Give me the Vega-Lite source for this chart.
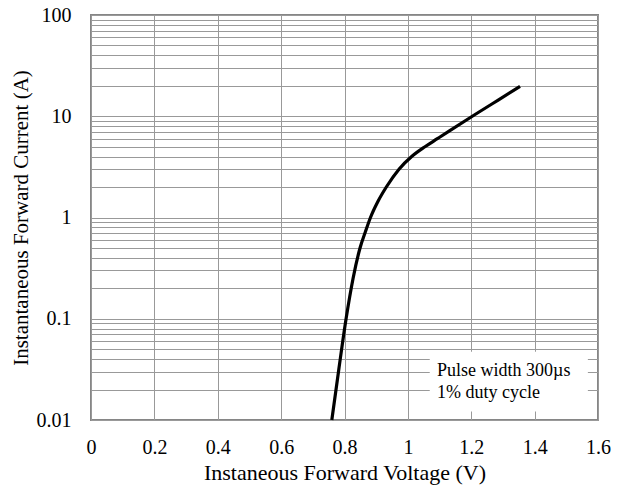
{
  "$schema": "https://vega.github.io/schema/vega-lite/v6.json",
  "width": 507,
  "height": 405,
  "autosize": "none",
  "padding": {"left": 91, "top": 15, "right": 26, "bottom": 69},
  "background": "white",
  "config": {
    "view": {"stroke": "#868686", "strokeWidth": 2},
    "font": "Liberation Serif"
  },
  "datasets": {
    "curve": [
      {"V": 0.760, "I": 0.01},
      {"V": 0.782, "I": 0.0316},
      {"V": 0.805, "I": 0.1},
      {"V": 0.827, "I": 0.25},
      {"V": 0.849, "I": 0.5},
      {"V": 0.867, "I": 0.74},
      {"V": 0.882, "I": 1.0},
      {"V": 0.905, "I": 1.43},
      {"V": 0.932, "I": 2.0},
      {"V": 0.972, "I": 3.0},
      {"V": 1.012, "I": 4.0},
      {"V": 1.054, "I": 5.0},
      {"V": 1.093, "I": 6.0},
      {"V": 1.130, "I": 7.13},
      {"V": 1.212, "I": 10.4},
      {"V": 1.285, "I": 14.45},
      {"V": 1.354, "I": 19.7}
    ],
    "box": [{"x1": 1.069, "x2": 1.568, "y1": 0.0121, "y2": 0.0473}],
    "notes": [
      {"V": 1.092, "I": 0.0303, "t": "Pulse width 300µs"},
      {"V": 1.092, "I": 0.0183, "t": "1% duty cycle"}
    ]
  },
  "layer": [
    {
      "data": {"name": "curve"},
      "mark": {"type": "line", "color": "black", "strokeWidth": 3.2, "interpolate": "monotone"},
      "encoding": {
        "x": {
          "field": "V", "type": "quantitative",
          "scale": {"domain": [0, 1.6], "nice": false, "zero": false},
          "axis": {
            "title": "Instaneous Forward Voltage (V)",
            "values": [0, 0.2, 0.4, 0.6, 0.8, 1, 1.2, 1.4, 1.6],
            "format": "~g",
            "grid": true, "gridColor": "#999999", "gridWidth": 1, "gridOpacity": 1,
            "ticks": false, "domain": false,
            "labelFont": "Liberation Serif", "labelFontSize": 20, "labelColor": "black",
            "labelPadding": 17, "labelFlush": false,
            "titleFont": "Liberation Serif", "titleFontSize": 22, "titleFontWeight": "normal",
            "titleColor": "black", "titlePadding": 5
          }
        },
        "y": {
          "field": "I", "type": "quantitative",
          "scale": {"type": "log", "domain": [0.01, 100], "nice": false},
          "axis": {
            "title": "Instantaneous Forward Current (A)",
            "values": [0.01, 0.02, 0.03, 0.04, 0.05, 0.06, 0.07, 0.08, 0.09,
                       0.1, 0.2, 0.3, 0.4, 0.5, 0.6, 0.7, 0.8, 0.9,
                       1, 2, 3, 4, 5, 6, 7, 8, 9,
                       10, 20, 30, 40, 50, 60, 70, 80, 90, 100],
            "format": "~g",
            "labelExpr": "indexof([0.01, 0.1, 1, 10, 100], datum.value) >= 0 ? datum.label : ''",
            "grid": true, "gridColor": "#999999", "gridWidth": 1, "gridOpacity": 1,
            "ticks": false, "domain": false,
            "labelFont": "Liberation Serif", "labelFontSize": 20, "labelColor": "black",
            "labelPadding": 20, "labelFlush": false,
            "titleFont": "Liberation Serif", "titleFontSize": 21, "titleFontWeight": "normal",
            "titleColor": "black", "titlePadding": 5
          }
        }
      }
    },
    {
      "data": {"name": "box"},
      "mark": {"type": "rect", "fill": "white", "stroke": null},
      "encoding": {
        "x": {"field": "x1", "type": "quantitative"},
        "x2": {"field": "x2"},
        "y": {"field": "y1", "type": "quantitative"},
        "y2": {"field": "y2"}
      }
    },
    {
      "data": {"name": "notes"},
      "mark": {"type": "text", "align": "left", "baseline": "middle", "font": "Liberation Serif", "fontSize": 18, "color": "black"},
      "encoding": {
        "x": {"field": "V", "type": "quantitative"},
        "y": {"field": "I", "type": "quantitative"},
        "text": {"field": "t"}
      }
    }
  ]
}
